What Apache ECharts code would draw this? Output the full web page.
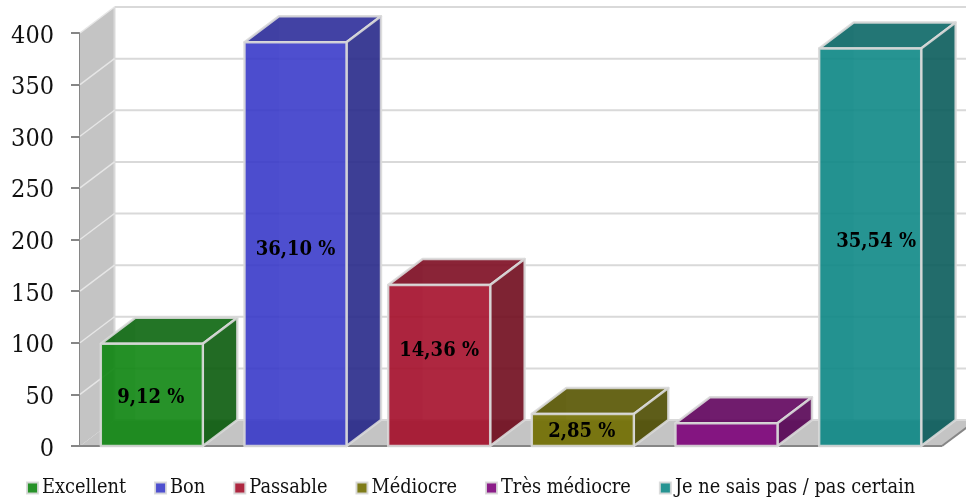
<!DOCTYPE html>
<html><head><meta charset="utf-8">
<style>html,body{margin:0;padding:0;background:#fff}#c{width:966px;height:502px}</style>
<script src="https://cdn.jsdelivr.net/npm/echarts@6/dist/echarts.min.js"></script>
</head><body><div id="c"></div>
<script>
const categories = ['Excellent','Bon','Passable','Médiocre','Très médiocre','Je ne sais pas / pas certain'];
const values = [99, 391, 156, 31, 22, 385];
const percentLabels = ['9,12 %','36,10 %','14,36 %','2,85 %','','35,54 %'];
const colors = ['#0f8612','#3b3cca','#a5102b','#716e00','#7e047b','#0e8886'];
const yTicks = [0,50,100,150,200,250,300,350,400];

const labelShift = [[-1,3],[0,6],[0,-15],[-1,2],[0,0],[6,-5]];
const FONT = '"DejaVu Serif Condensed", "DejaVu Serif", serif';
const EDGE = '#d9d9d9', WALL = '#c4c4c4', AXIS = '#868686';
const DEPTH_X = 0.24, DEPTH_Y = -26, BAR = 0.71, ALPHA = 0.9;

function shade(hex, f){
  const n = parseInt(hex.slice(1),16);
  const p = v => Math.round(v*f).toString(16).padStart(2,'0');
  return '#'+p(n>>16&255)+p(n>>8&255)+p(n&255);
}
function frame(api){
  const w = api.size([1,0])[0];
  const x0 = api.coord([0,0])[0]-w/2;
  const x1 = api.coord([categories.length-1,0])[0]+w/2;
  return {w, x0, x1, dx:w*DEPTH_X};
}
function renderWalls(params, api){
  const {x0,x1,dx} = frame(api);
  const y0 = api.coord([0,0])[1], yT = api.coord([0,400])[1];
  return {type:'group',children:[
    {type:'polygon',shape:{points:[[x0,yT],[x0+dx,yT+DEPTH_Y],[x0+dx,y0+DEPTH_Y],[x0,y0]]},style:{fill:WALL}},
    {type:'polygon',shape:{points:[[x0,y0],[x0+dx,y0+DEPTH_Y],[x1+dx,y0+DEPTH_Y],[x1,y0]]},style:{fill:WALL}},
    {type:'line',shape:{x1:x0+dx,y1:yT+DEPTH_Y,x2:x0+dx,y2:y0+DEPTH_Y},style:{stroke:EDGE,lineWidth:2}},
    {type:'line',shape:{x1:x1,y1:y0,x2:x1+dx,y2:y0+DEPTH_Y},style:{stroke:AXIS,lineWidth:2}},
    {type:'line',shape:{x1:x0,y1:y0,x2:x1,y2:y0},style:{stroke:AXIS,lineWidth:2}}
  ]};
}
function renderGrid(params, api){
  const {x0,x1,dx} = frame(api);
  const y = api.coord([0,api.value(0)])[1];
  const kids = [{type:'line',shape:{x1:x0+dx,y1:y+DEPTH_Y,x2:x1+dx,y2:y+DEPTH_Y},style:{stroke:EDGE,lineWidth:2}}];
  kids.push({type:'line',shape:{x1:x0,y1:y,x2:x0+dx,y2:y+DEPTH_Y},style:{stroke:'#e6e6e6',lineWidth:api.value(0)===0?0:1.5}});
  return {type:'group',children:kids};
}
function renderBar(i){
  return function(params, api){
    const {w,dx} = frame(api);
    const c = api.coord([api.value(0),api.value(1)]);
    const yB = api.coord([api.value(0),0])[1];
    const hw = w*BAR/2, L = c[0]-hw, R = c[0]+hw, T = c[1], dy = DEPTH_Y;
    const col = colors[i];
    const edge = {stroke:EDGE,lineWidth:2.4,lineJoin:'round'};
    const kids = [
      {type:'polygon',shape:{points:[[L,T],[L+dx,T+dy],[L+dx,yB+dy],[L,yB]]},style:{fill:shade(col,0.6),opacity:0.12}},
      {type:'polygon',shape:{points:[[L,yB],[L+dx,yB+dy],[R+dx,yB+dy],[R,yB]]},style:{fill:shade(col,0.6),opacity:0.12}},
      {type:'polygon',shape:{points:[[L,T],[L+dx,T+dy],[R+dx,T+dy],[R,T]]},style:Object.assign({fill:shade(col,0.76),opacity:ALPHA},edge)},
      {type:'polygon',shape:{points:[[R,T],[R+dx,T+dy],[R+dx,yB+dy],[R,yB]]},style:Object.assign({fill:shade(col,0.68),opacity:ALPHA},edge)},
      {type:'rect',shape:{x:L,y:T,width:R-L,height:yB-T},style:Object.assign({fill:col,opacity:ALPHA},edge)}
    ];
    if(percentLabels[i]){
      kids.push({type:'text',style:{text:percentLabels[i],x:c[0]+labelShift[i][0],y:(T+yB)/2+labelShift[i][1],
        textAlign:'center',textVerticalAlign:'middle',fill:'#000',font:'bold 20px '+FONT}});
    }
    return {type:'group',children:kids};
  };
}
const chart = echarts.init(document.getElementById('c'));
chart.setOption({
  animation:false,
  backgroundColor:'#fff',
  grid:{left:80,right:24,top:33,bottom:56,containLabel:false},
  legend:{
    data:categories,left:26,top:478,itemWidth:11,itemHeight:11,itemGap:28,icon:'rect',padding:0,selectedMode:false,
    textStyle:{fontFamily:FONT,fontSize:19.8,color:'#111',padding:[0,0,0,-1]}
  },
  xAxis:{type:'category',data:categories,boundaryGap:true,axisLine:{show:false},axisTick:{show:false},axisLabel:{show:false},splitLine:{show:false}},
  yAxis:{type:'value',min:0,max:400,interval:50,
    axisLine:{show:true,lineStyle:{color:AXIS,width:2}},
    axisTick:{show:true,length:9,lineStyle:{color:AXIS,width:2}},
    axisLabel:{margin:26,fontFamily:FONT,fontSize:25,color:'#111',verticalAlign:'top',lineHeight:6},
    splitLine:{show:false}},
  series:[
    {type:'custom',name:'walls',silent:true,z:1,clip:false,data:[[0]],renderItem:renderWalls},
    {type:'custom',name:'grid',silent:true,z:2,clip:false,data:yTicks.map(v=>[v]),encode:{y:0},renderItem:renderGrid}
  ].concat(categories.map((name,i)=>({
    type:'custom',name,silent:true,z:3,clip:false,
    itemStyle:{color:colors[i],opacity:ALPHA,borderColor:EDGE,borderWidth:2},
    data:[[i,values[i]]],encode:{x:0,y:1},renderItem:renderBar(i)
  })))
});
</script></body></html>
